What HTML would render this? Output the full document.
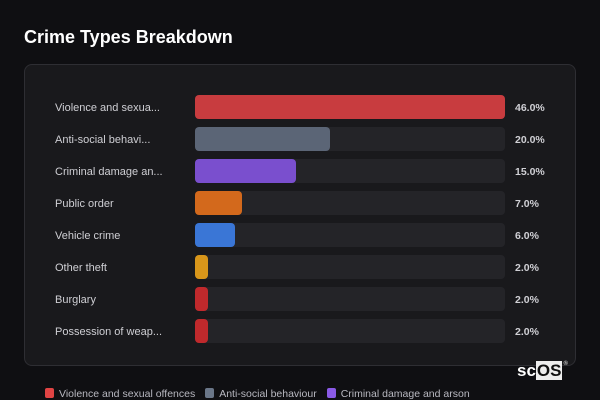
<!DOCTYPE html>
<html><head><meta charset="utf-8"><style>
body{margin:0;width:600px;height:400px;background:#0f0f12;font-family:"Liberation Sans",sans-serif;overflow:hidden;position:relative;color:#ddd}
h1{position:absolute;left:24px;top:27px;margin:0;font-size:18px;font-weight:bold;color:#fff}
#panel{position:absolute;left:24px;top:64px;width:550px;height:300px;background:#19191c;border:1px solid #2e2e33;border-radius:8px}
.lab{position:absolute;left:55px;font-size:11px;color:#cfcfd4;line-height:14px}
.trk{position:absolute;left:195px;width:310px;height:24px;background:#242428;border-radius:4px}
.bar{position:absolute;left:0;top:0;height:24px;border-radius:4px}
.val{position:absolute;left:515px;font-size:10.5px;font-weight:bold;color:#d0d0d5;line-height:14px}
#legend{position:absolute;top:388px;left:45px;font-size:10.5px;color:#b8b8c0;white-space:nowrap}
.li{display:inline-block;margin-right:10px}
.sw{display:inline-block;width:9px;height:10px;border-radius:2px;vertical-align:-1px;margin-right:5px}
#logo{position:absolute;left:517px;top:361px;font-size:17px;font-weight:bold;color:#fff}
#logo span{background:#eee;color:#111;padding:0 1px}
#logo sup{font-size:6px;color:#ccc;vertical-align:top;margin-left:1px}
</style></head><body>
<h1>Crime Types Breakdown</h1>
<div id="panel"></div>
<div id="rows"></div>
<div id="legend"></div>
<div id="logo">sc<span>OS</span><sup>®</sup></div>
<script>
const categories=["Violence and sexua...","Anti-social behavi...","Criminal damage an...","Public order","Vehicle crime","Other theft","Burglary","Possession of weap..."];
const values=[46,20,15,7,6,2,2,2];
const colors=["#c83c3f","#5b6576","#7a4fce","#d3691c","#3a76d6","#d8961a","#c0292c","#c0292c"];
const legendNames=["Violence and sexual offences","Anti-social behaviour","Criminal damage and arson"];
const legendColors=["#e04444","#6a7688","#8a5ae6"];
const maxV=Math.max(...values);
const xs=v=>v/maxV*310;
const rowY=i=>95+i*32;
const rows=document.getElementById('rows');
values.forEach((v,i)=>{
 const l=document.createElement('div');l.className='lab';l.style.top=(rowY(i)+6)+'px';l.textContent=categories[i];
 
 
 rows.appendChild(l);
 const t=document.createElement('div');t.className='trk';t.style.top=rowY(i)+'px';
 
 
 const b=document.createElement('div');b.className='bar';b.style.width=xs(v)+'px';b.style.background=colors[i];
 
 
 t.appendChild(b);rows.appendChild(t);
 const vl=document.createElement('div');vl.className='val';vl.style.top=(rowY(i)+6)+'px';vl.textContent=v.toFixed(1)+'%';
 
 
 rows.appendChild(vl);
});
const lg=document.getElementById('legend');
legendNames.forEach((n,i)=>{
 const e=document.createElement('span');e.className='li';
 
 
 e.innerHTML='<span class="sw" style="background:'+legendColors[i]+'"></span>'+n;
 lg.appendChild(e);
});
</script>
</body></html>
